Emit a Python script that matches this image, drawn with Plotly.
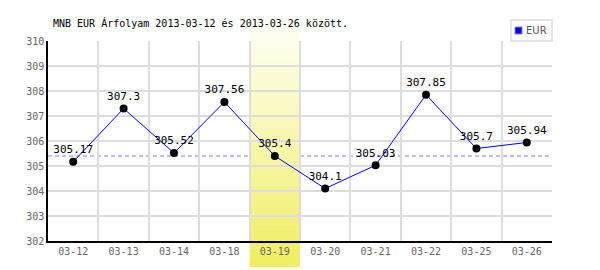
import plotly.graph_objects as go

categories = ["03-12", "03-13", "03-14", "03-18", "03-19", "03-20", "03-21", "03-22", "03-25", "03-26"]
values = [305.17, 307.3, 305.52, 307.56, 305.4, 304.1, 305.03, 307.85, 305.7, 305.94]
labels = ["305.17", "307.3", "305.52", "307.56", "305.4", "304.1", "305.03", "307.85", "305.7", "305.94"]
highlight_index = 4
reference_value = 305.4
series_name = "EUR"
title_text = "MNB EUR Árfolyam 2013-03-12 és 2013-03-26 között."

MONO = "DejaVu Sans Mono"

W, H = 600, 270
L, R, T, B = 48, 48, 41, 29
plot_h = H - T - B

fig = go.Figure()

fig.add_trace(go.Scatter(
    x=categories, y=values, mode="lines+markers+text",
    line=dict(color="#0000ff", width=1),
    marker=dict(color="black", size=8),
    text=labels, textposition="top center",
    textfont=dict(family=MONO, size=11, color="black"),
    cliponaxis=False, showlegend=False, hoverinfo="x+y",
))

shapes = []
# dashed reference line
shapes.append(dict(type="line", xref="paper", yref="y", x0=0, x1=1,
                   y0=reference_value, y1=reference_value,
                   line=dict(color="#7f7fff", width=1, dash="4px,3px"), layer="between"))

# gradient highlight band (stacked strips)
top_px, bot_px = 25, 267
n = 40
c_top = (255, 255, 245)
c_bot = (240, 238, 96)
for i in range(n):
    y0px = top_px + (bot_px - top_px) * i / n
    y1px = top_px + (bot_px - top_px) * (i + 1) / n
    t = (i + 0.5) / n
    col = tuple(round(c_top[k] + (c_bot[k] - c_top[k]) * t) for k in range(3))
    shapes.append(dict(type="rect", xref="x", yref="paper",
                       x0=highlight_index - 0.5, x1=highlight_index + 0.5,
                       y0=(H - B - y1px) / plot_h, y1=(H - B - y0px) / plot_h + 0.002,
                       fillcolor="rgb(%d,%d,%d)" % col, line=dict(width=0), layer="between"))

# legend box
px_w = W - L - R
def xp(px):
    return (px - L) / px_w
def yp(py):
    return (H - B - py) / plot_h
shapes.append(dict(type="rect", xref="paper", yref="paper",
                   x0=xp(511), x1=xp(552), y0=yp(41), y1=yp(20),
                   fillcolor="white", line=dict(color="#dddddd", width=1.5), layer="above"))
shapes.append(dict(type="rect", xref="paper", yref="paper",
                   x0=xp(515), x1=xp(522), y0=yp(34), y1=yp(27),
                   fillcolor="#0000ff", line=dict(color="#888888", width=1), layer="above"))

annotations = [dict(xref="paper", yref="paper", x=xp(524), y=yp(30.5), xanchor="left",
                    yanchor="middle", text=series_name, showarrow=False,
                    font=dict(family="DejaVu Sans", size=10, color="#555555"))]

fig.update_layout(
    width=W, height=H,
    margin=dict(l=L, r=R, t=T, b=B),
    paper_bgcolor="white", plot_bgcolor="white",
    title=dict(text=title_text, x=53 / W, xanchor="left", y=1 - 23 / H, yanchor="middle",
               font=dict(family=MONO, size=10, color="black")),
    shapes=shapes, annotations=annotations,
    showlegend=False,
    xaxis=dict(type="category", range=[-0.5, len(categories) - 0.5],
               tickson="boundaries", showgrid=True, gridcolor="#dddddd", gridwidth=1.5,
               showline=True, linecolor="black", linewidth=1.5, ticks="",
               tickfont=dict(family=MONO, size=10, color="#666666"), zeroline=False,
               fixedrange=True),
    yaxis=dict(range=[302, 310], dtick=1, showgrid=True, gridcolor="#dddddd", gridwidth=1.5,
               showline=True, linecolor="black", linewidth=1.5, ticks="",
               tickfont=dict(family=MONO, size=10, color="#666666"), zeroline=False,
               fixedrange=True),
)

fig.write_html("out.html")
